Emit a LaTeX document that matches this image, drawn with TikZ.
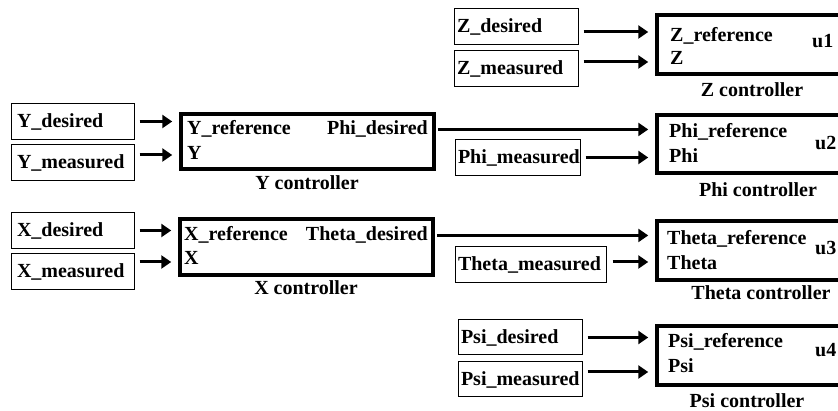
\documentclass[tikz,border=0pt]{standalone}
\usepackage{fontspec}
\setmainfont{Liberation Serif}
\usetikzlibrary{arrows.meta}

\tikzset{
	inbox/.style={draw, line width=1pt, minimum height=36pt, inner ysep=0pt, align=left},
	ctrl/.style={draw, line width=3.5pt, inner sep=0pt},
	txt/.style={inner sep=0pt, anchor=base west},
	ctrllabel/.style={inner sep=0pt, anchor=base},
	sig/.style={line width=3pt, -{Triangle[length=10pt,width=13pt]}, shorten >=7pt, shorten <=5pt},
}

\begin{document}
\begin{tikzpicture}[x=1pt, y=-1pt, font=\fontsize{20}{24}\selectfont\bfseries]
	\useasboundingbox (0,0) rectangle (838,411);
	\clip (0,0) rectangle (838,411);

	% outer loops
	\node[inbox, text width=111pt, inner xsep=6pt] (ydes) at (72.5,121.5) {Y\_desired};
	\node[inbox, text width=111pt, inner xsep=6pt] (ymeas) at (72.5,163) {Y\_measured};
	\node[inbox, text width=111pt, inner xsep=6pt] (xdes) at (72.5,230.5) {X\_desired};
	\node[inbox, text width=111pt, inner xsep=6pt] (xmeas) at (72.5,271.5) {X\_measured};

	\node[ctrl, minimum width=253pt, minimum height=55pt] (yctrl) at (307.5,141.5) {};
	\node[txt] (yref) at (187,135) {Y\_reference};
	\node[txt] (y) at (187,160) {Y};
	\node[txt, anchor=base east] (phides) at (428,135) {Phi\_desired};
	\node[ctrllabel] (ylabel) at (307,190) {Y controller};

	\node[ctrl, minimum width=253pt, minimum height=56pt] (xctrl) at (306.5,247) {};
	\node[txt] (xref) at (184,241) {X\_reference};
	\node[txt] (x) at (184,265) {X};
	\node[txt, anchor=base east] (thetades) at (428,241) {Theta\_desired};
	\node[ctrllabel] (xlabel) at (306,295) {X controller};

	\draw[sig] (ydes.east) -- (ydes.east -| yctrl.west);
	\draw[sig] ([yshift=8pt]ymeas.east) -- ([yshift=8pt]ymeas.east -| yctrl.west);
	\draw[sig] (xdes.east) -- (xdes.east -| xctrl.west);
	\draw[sig] ([yshift=9.5pt]xmeas.east) -- ([yshift=9.5pt]xmeas.east -| xctrl.west);

	% inner loops
	\node[inbox, text width=118pt, inner xsep=3pt] (zdes) at (516,26.5) {Z\_desired};
	\node[inbox, text width=118pt, inner xsep=3pt] (zmeas) at (516,68.5) {Z\_measured};
	\node[inbox, text width=119pt, inner xsep=3pt] (phimeas) at (517.5,157.5) {Phi\_measured};
	\node[inbox, text width=145pt, inner xsep=3pt] (thetameas) at (530.5,265) {Theta\_measured};
	\node[inbox, text width=118pt, inner xsep=3pt, minimum height=35pt] (psides) at (520,337.5) {Psi\_desired};
	\node[inbox, text width=118pt, inner xsep=3pt, minimum height=35pt] (psimeas) at (520,379.5) {Psi\_measured};

	\node[ctrl, minimum width=191pt, minimum height=59pt] (zctrl) at (752.5,44.5) {};
	\node[txt] (zref) at (670,42) {Z\_reference};
	\node[txt] (z) at (670,65) {Z};
	\node[txt] (u1) at (812,48) {u1};
	\node[ctrllabel] (zlabel) at (752,97) {Z controller};

	\node[ctrl, minimum width=191pt, minimum height=58pt] (phictrl) at (752.5,144) {};
	\node[txt] (phiref) at (669,138) {Phi\_reference};
	\node[txt] (phi) at (669,163) {Phi};
	\node[txt] (u2) at (815,150) {u2};
	\node[ctrllabel] (philabel) at (758,197) {Phi controller};

	\node[ctrl, minimum width=191pt, minimum height=59pt] (thetactrl) at (752.5,250.5) {};
	\node[txt] (thetaref) at (667,245) {Theta\_reference};
	\node[txt] (theta) at (667,270) {Theta};
	\node[txt] (u3) at (815,255) {u3};
	\node[ctrllabel] (thetalabel) at (761,300) {Theta controller};

	\node[ctrl, minimum width=191pt, minimum height=59pt] (psictrl) at (752.5,355.5) {};
	\node[txt] (psiref) at (668,348) {Psi\_reference};
	\node[txt] (psi) at (668,373) {Psi};
	\node[txt] (u4) at (815,357) {u4};
	\node[ctrllabel] (psilabel) at (747,407) {Psi controller};

	\draw[sig, shorten <=2pt] (yctrl.east |- phides) -- (phictrl.west |- phides);
	\draw[sig, shorten <=2pt] (xctrl.east |- thetades) -- (thetactrl.west |- thetades);

	\draw[sig] ([yshift=-5.5pt]zdes.east) -- ([yshift=-5.5pt]zdes.east -| zctrl.west);
	\draw[sig] ([yshift=6.5pt]zmeas.east) -- ([yshift=6.5pt]zmeas.east -| zctrl.west);
	\draw[sig] (phimeas.east) -- (phimeas.east -| phictrl.west);
	\draw[sig, shorten <=6pt] ([yshift=3pt]thetameas.east) -- ([yshift=3pt]thetameas.east -| thetactrl.west);
	\draw[sig] (psides.east) -- (psides.east -| psictrl.west);
	\draw[sig] ([yshift=7.5pt]psimeas.east) -- ([yshift=7.5pt]psimeas.east -| psictrl.west);
\end{tikzpicture}
\end{document}
